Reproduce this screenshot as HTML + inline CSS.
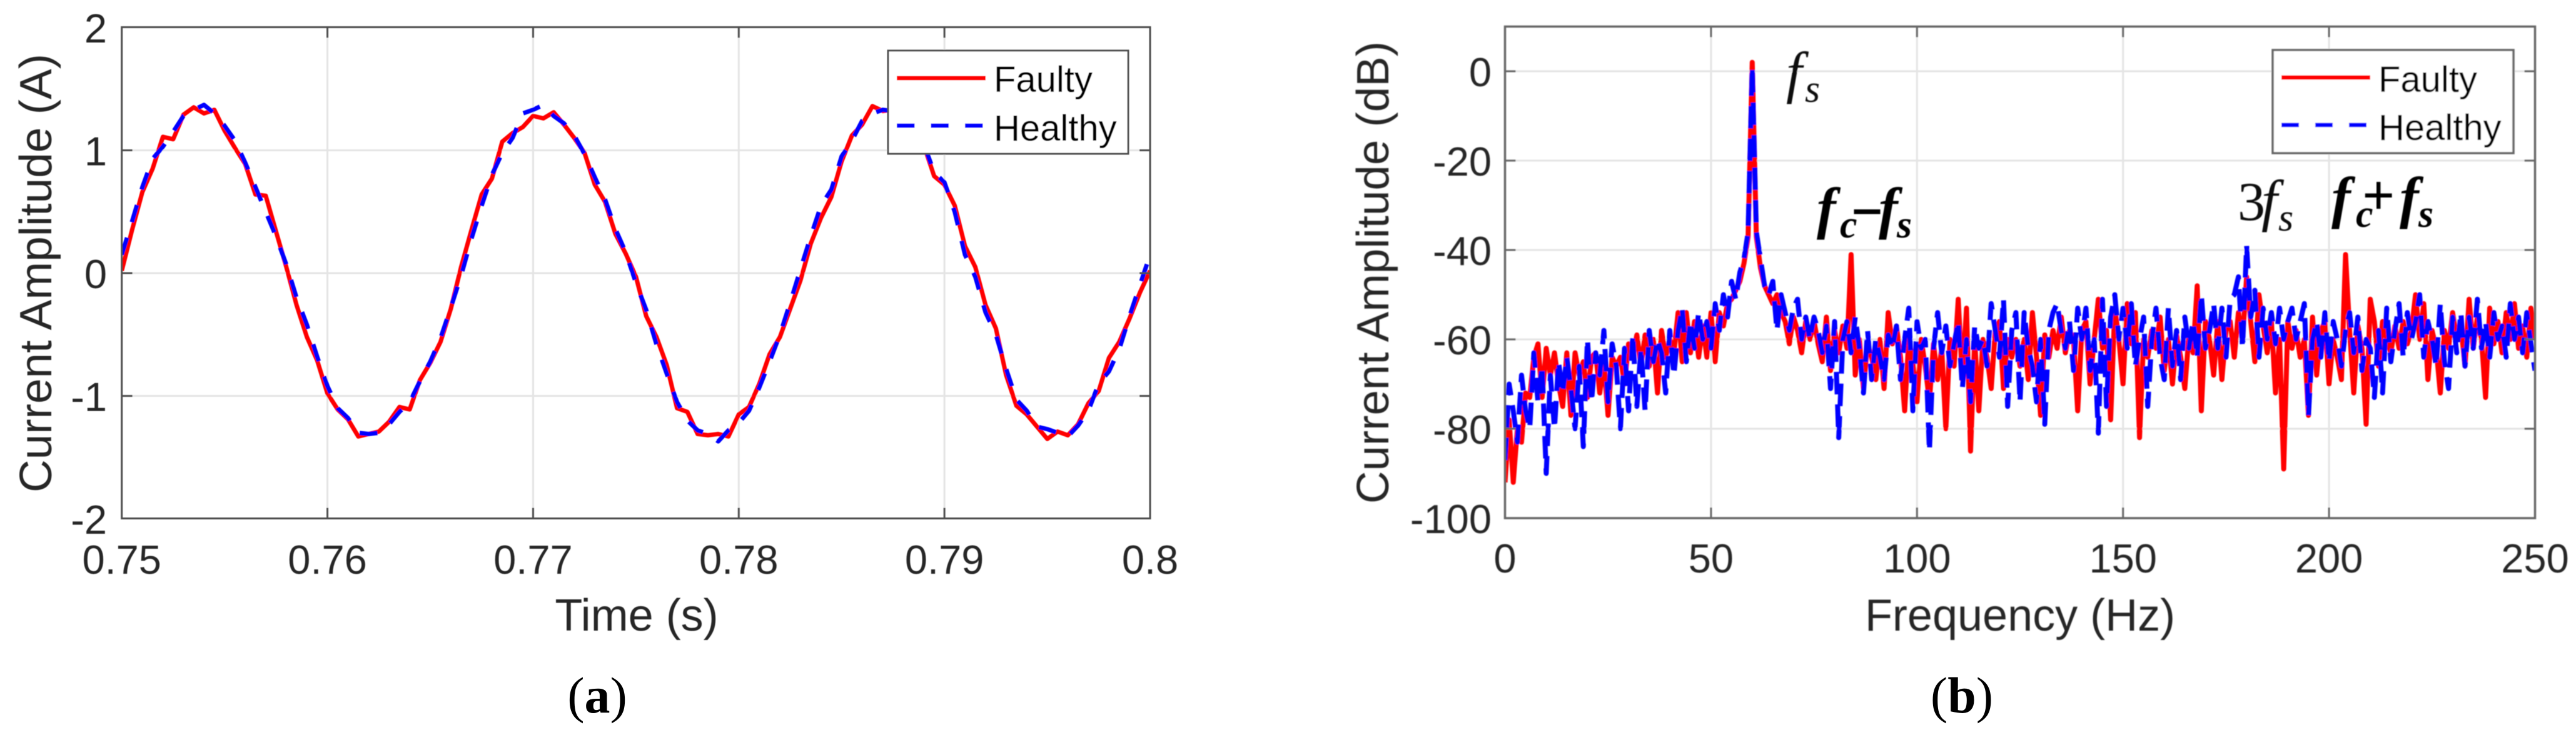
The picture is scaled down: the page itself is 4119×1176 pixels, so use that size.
<!DOCTYPE html>
<html lang="en">
<head>
<meta charset="utf-8">
<title>Current waveform and spectrum: faulty vs healthy</title>
<style>
html,body{margin:0;padding:0;background:#fff;width:4119px;height:1176px;overflow:hidden}
svg{display:block}
text{font-family:"Liberation Sans",Arial,sans-serif;fill:#262626}
.tick{font-size:65px}
.axis-title{font-size:72px}
.legend-text{font-size:58px;fill:#000}
.caption{font-family:"Liberation Serif","Times New Roman",serif;font-size:82px;fill:#000}
.note{font-family:"Liberation Serif","Times New Roman",serif;fill:#111}
.main{font-size:92px;font-style:italic}
.sub{font-size:62px;font-style:italic}
.bold{font-weight:bold;fill:#000}
</style>
</head>
<body>
<svg id="fig" xmlns="http://www.w3.org/2000/svg" width="4119" height="1176" viewBox="0 0 4119 1176">
  <defs>
    <clipPath id="clip-a"><rect x="194.7" y="43.5" width="1644.3" height="786"/></clipPath>
    <clipPath id="clip-b"><rect x="2406.5" y="42.5" width="1647" height="786.5"/></clipPath>
    <filter id="soft-a" x="-2%" y="-2%" width="104%" height="104%"><feGaussianBlur stdDeviation="0.5"/></filter>
    <filter id="soft-b" x="-2%" y="-2%" width="104%" height="104%"><feGaussianBlur stdDeviation="0.8"/></filter>
  </defs>
  <rect x="0" y="0" width="4119" height="1176" fill="#fff"/>

  <g id="panel-a" filter="url(#soft-a)">
    <g id="grid-a"></g>
    <g id="lines-a" clip-path="url(#clip-a)"></g>
    <g id="ticks-a"></g>
    <rect x="194.7" y="43.5" width="1644.3" height="786" fill="none" stroke="#4d4d4d" stroke-width="3"/>
    <text class="axis-title" transform="translate(82,437) rotate(-90)" text-anchor="middle" textLength="702" lengthAdjust="spacingAndGlyphs">Current Amplitude (A)</text>
    <text class="axis-title" x="1018" y="1009" text-anchor="middle">Time (s)</text>
    <g>
      <rect x="1420" y="81" width="384" height="165" fill="#fff" stroke="#4d4d4d" stroke-width="3"/>
      <line x1="1434" y1="125" x2="1576" y2="125" stroke="#ff0000" stroke-width="7"/>
      <line x1="1434" y1="201" x2="1572" y2="201" stroke="#0000ff" stroke-width="7" stroke-dasharray="28.5 26"/>
      <text class="legend-text" x="1589" y="147">Faulty</text>
      <text class="legend-text" x="1589" y="225">Healthy</text>
    </g>
  </g>
  <text class="caption" x="955" y="1140" text-anchor="middle">(<tspan font-weight="bold">a</tspan>)</text>

  <g id="panel-b" filter="url(#soft-b)">
    <g id="grid-b"></g>
    <g id="lines-b" clip-path="url(#clip-b)"></g>
    <g id="ticks-b"></g>
    <rect x="2406.5" y="42.5" width="1647" height="786.5" fill="none" stroke="#666" stroke-width="3.5"/>
    <text class="axis-title" transform="translate(2220,436) rotate(-90)" text-anchor="middle" textLength="740" lengthAdjust="spacingAndGlyphs">Current Amplitude (dB)</text>
    <text class="axis-title" x="3230" y="1009" text-anchor="middle">Frequency (Hz)</text>
    <g>
      <rect x="3634" y="80" width="385" height="165" fill="#fff" stroke="#666" stroke-width="3.5"/>
      <line x1="3648" y1="124" x2="3790" y2="124" stroke="#ff0000" stroke-width="7"/>
      <line x1="3648" y1="200" x2="3786" y2="200" stroke="#0000ff" stroke-width="7" stroke-dasharray="28 26"/>
      <text class="legend-text" x="3803" y="147">Faulty</text>
      <text class="legend-text" x="3803" y="224">Healthy</text>
    </g>
    <g>
      <text class="note main" x="2856" y="147">f</text>
      <text class="note sub" x="2886" y="163">s</text>
    </g>
    <g>
      <text class="note main bold" x="2905" y="364">f</text>
      <text class="note sub bold" x="2942" y="380">c</text>
      <text class="note bold" x="2966" y="357" font-size="78" stroke="#000" stroke-width="2">–</text>
      <text class="note main bold" x="3004" y="364">f</text>
      <text class="note sub bold" x="3033" y="380">s</text>
    </g>
    <g>
      <text class="note" x="3578" y="352" font-size="88">3</text>
      <text class="note main" x="3616" y="352">f</text>
      <text class="note sub" x="3643" y="369">s</text>
    </g>
    <g>
      <text class="note main bold" x="3728" y="347">f</text>
      <text class="note sub bold" x="3767" y="363">c</text>
      <text class="note bold" x="3777" y="343" font-size="92">+</text>
      <text class="note main bold" x="3837" y="347">f</text>
      <text class="note sub bold" x="3867" y="363">s</text>
    </g>
  </g>
  <text class="caption" x="3137" y="1140" text-anchor="middle">(<tspan font-weight="bold">b</tspan>)</text>
</svg>
<script>
const timeStart = 0.75;
const timeStep = 0.0005;
const faultyCurrent = [0.02,0.35,0.66,0.85,1.11,1.09,1.29,1.35,1.30,1.33,1.16,1.02,0.89,0.64,0.63,0.34,0.05,-0.26,-0.52,-0.71,-0.98,-1.11,-1.19,-1.33,-1.31,-1.29,-1.21,-1.09,-1.11,-0.87,-0.73,-0.56,-0.29,0.05,0.35,0.64,0.77,1.07,1.14,1.19,1.28,1.26,1.31,1.21,1.10,0.98,0.72,0.58,0.32,0.16,-0.03,-0.35,-0.52,-0.75,-1.10,-1.13,-1.31,-1.32,-1.31,-1.33,-1.15,-1.09,-0.90,-0.66,-0.52,-0.29,-0.06,0.24,0.45,0.62,0.91,1.12,1.21,1.36,1.32,1.33,1.29,1.19,1.04,0.79,0.72,0.55,0.22,0.05,-0.26,-0.45,-0.83,-1.08,-1.15,-1.25,-1.35,-1.29,-1.32,-1.23,-1.06,-0.96,-0.69,-0.56,-0.37,-0.16,0.02];
const healthyCurrent = [0.15,0.42,0.70,0.93,1.03,1.15,1.28,1.33,1.37,1.30,1.20,1.08,0.90,0.70,0.50,0.30,0.07,-0.20,-0.42,-0.68,-0.92,-1.10,-1.18,-1.30,-1.31,-1.30,-1.23,-1.13,-1.05,-0.88,-0.72,-0.53,-0.28,-0.02,0.28,0.55,0.80,0.98,1.10,1.30,1.33,1.37,1.28,1.22,1.12,0.97,0.78,0.60,0.36,0.17,-0.08,-0.30,-0.58,-0.82,-1.05,-1.20,-1.28,-1.31,-1.37,-1.28,-1.22,-1.12,-0.93,-0.72,-0.50,-0.24,0.03,0.30,0.55,0.68,0.95,1.08,1.24,1.30,1.33,1.32,1.30,1.20,1.05,0.82,0.74,0.50,0.15,-0.03,-0.32,-0.50,-0.78,-1.03,-1.12,-1.25,-1.27,-1.30,-1.33,-1.24,-1.12,-0.90,-0.80,-0.62,-0.35,-0.10,0.15];
const timeTicks = [0.75,0.76,0.77,0.78,0.79,0.80];
const timeTickLabels = ['0.75','0.76','0.77','0.78','0.79','0.8'];
const currentTicks = [-2,-1,0,1,2];
const currentTickLabels = ['-2','-1','0','1','2'];

const freqStart = 0;
const freqStep = 1;
const faultyDb = [-92,-78,-92,-80,-83,-72,-73,-64,-61,-73,-62,-68,-63,-70,-75,-63,-77,-63,-68,-65,-73,-64,-63,-72,-65,-77,-64,-66,-64,-70,-61,-64,-59,-66,-59,-66,-60,-72,-58,-64,-60,-63,-54,-65,-54,-63,-56,-64,-57,-64,-54,-65,-54,-57,-52,-51,-49,-47,-43,-37,2,-37,-44,-48,-50,-52,-50,-54,-56,-61,-55,-58,-63,-56,-60,-56,-61,-65,
-55,-67,-58,-63,-57,-62,-41,-68,-60,-71,-61,-64,-69,-60,-71,-54,-61,-57,-64,-76,-60,-65,-74,
-60,-66,-74,-61,-69,-62,-80,-60,-66,-51,-69,-53,-85,-60,-76,-60,-64,-71,-58,-56,-71,-60,-64,-60,-66,-60,-69,-54,-64,-77,-59,-64,-58,-62,-55,-63,-58,-60,-76,-58,-56,-70,-60,-51,-62,-58,-78,-53,-60,-70,
-52,-61,-54,-82,-60,-64,-58,-62,-55,-67,-60,-70,-59,-64,-71,-59,-63,-48,-76,-56,-60,-68,-56,-69,-58,-56,-64,-54,-60,-46,-56,-65,-50,-57,-63,-56,-72,-60,-89,-56,-62,-58,-64,-60,-77,-55,-68,-58,-56,-70,
-60,-64,-69,-41,-58,-72,-57,-62,-79,-51,-56,-66,-56,-60,-63,-57,-62,-56,-61,-58,-50,-60,-52,-69,-58,-62,-72,-58,-62,-54,-60,-57,-66,-51,-62,-55,-60,-73,-53,-61,-56,-63,-54,-60,-52,-62,-57,-64,-53,-60];
const healthyDb = [-87,-70,-76,-83,-68,-76,-80,-63,-74,-66,-90,-68,-80,-65,-72,-64,-71,-80,-66,-84,-60,-74,-63,-68,-58,-74,-61,-66,-80,-62,-76,-59,-75,-62,-76,-58,-65,-60,-63,-72,-58,-68,-58,-53,-65,-56,-62,-54,-60,-56,-62,-52,-58,-50,-55,-47,-51,-45,-42,-36,1,-36,-42,-48,-50,-47,-58,-50,-54,-58,-53,-51,-60,-55,-60,-55,-58,-63,
-57,-71,-56,-82,-60,-56,-63,-55,-62,-72,-58,-69,-60,-64,-69,-59,-62,-57,-69,-60,-53,-76,-56,
-62,-60,-85,-62,-54,-63,-57,-66,-61,-56,-71,-60,-74,-57,-62,-60,-66,-52,-58,-64,-51,-75,-58,-54,-74,-54,-62,-66,-74,-60,-79,-58,-54,-52,-58,-62,-56,-67,-53,-60,-53,-67,-60,-81,-51,-75,-55,-50,-60,-53,
-62,-52,-66,-60,-55,-75,-60,-53,-64,-69,-53,-66,-58,-69,-55,-62,-56,-64,-50,-62,-58,-52,-62,-53,-64,-51,-50,-46,-62,-39,-55,-49,-64,-53,-60,-54,-61,-53,-60,-56,-53,-60,-56,-52,-77,-60,-56,-64,-54,-65,
-56,-60,-66,-58,-54,-63,-55,-67,-60,-62,-73,-58,-72,-53,-65,-58,-52,-64,-54,-60,-56,-50,-64,-56,-60,-66,-52,-65,-71,-55,-63,-54,-66,-55,-62,-51,-62,-56,-64,-54,-60,-57,-64,-52,-60,-55,-63,-54,-61,-67];
const freqTicks = [0,50,100,150,200,250];
const freqTickLabels = ['0','50','100','150','200','250'];
const dbTicks = [-100,-80,-60,-40,-20,0];
const dbTickLabels = ['-100','-80','-60','-40','-20','0'];

const SVG_NS = 'http://www.w3.org/2000/svg';
function xTime(t){ return 194.7 + (t - 0.75) / 0.05 * 1644.3; }
function yCurrent(v){ return 437 - 196.5 * v; }
function xFreq(f){ return 2406.5 + f * 6.588; }
function yDb(d){ return 114 - 7.15 * d; }

function make(tag, parent, props){
  const el = document.createElementNS(SVG_NS, tag);
  for (const k in props) el.setAttribute(k, props[k]);
  parent.appendChild(el);
  return el;
}

function drawSeries(parent, values, xOf, yOf, stroke, width, dash, name){
  const pts = values.map(function(v, i){ return xOf(i).toFixed(1) + ',' + yOf(v).toFixed(1); }).join(' ');
  const props = {points: pts, fill: 'none', stroke: stroke, 'stroke-width': width, 'stroke-linejoin': 'round'};
  if (dash) props['stroke-dasharray'] = dash;
  const el = make('polyline', parent, props);
  
  
}

function drawAxes(cfg){
  cfg.xTicks.forEach(function(t, i){
    const x = cfg.xOf(t);
    if (i > 0 && i < cfg.xTicks.length - 1) {
      const g = make('line', cfg.grid, {x1: x, x2: x, y1: cfg.top, y2: cfg.bottom, stroke: '#e4e4e4', 'stroke-width': 3});
      
      
      const a = make('line', cfg.ticks, {x1: x, x2: x, y1: cfg.bottom, y2: cfg.bottom - 17, stroke: cfg.tickColor, 'stroke-width': 3});
      
      
      const b = make('line', cfg.ticks, {x1: x, x2: x, y1: cfg.top, y2: cfg.top + 17, stroke: cfg.tickColor, 'stroke-width': 3});
      
      
    }
    const lab = make('text', cfg.ticks, {x: x, y: cfg.xLabelY, 'text-anchor': 'middle', 'class': 'tick'});
    lab.textContent = cfg.xLabels[i];
    
    
  });
  cfg.yTicks.forEach(function(v, i){
    const y = cfg.yOf(v);
    if (y > cfg.top + 1 && y < cfg.bottom - 1) {
      const g = make('line', cfg.grid, {x1: cfg.left, x2: cfg.right, y1: y, y2: y, stroke: '#e4e4e4', 'stroke-width': 3});
      
      
      const a = make('line', cfg.ticks, {x1: cfg.left, x2: cfg.left + 17, y1: y, y2: y, stroke: cfg.tickColor, 'stroke-width': 3});
      
      
      const b = make('line', cfg.ticks, {x1: cfg.right, x2: cfg.right - 17, y1: y, y2: y, stroke: cfg.tickColor, 'stroke-width': 3});
      
      
    }
    const lab = make('text', cfg.ticks, {x: cfg.yLabelX, y: y + 24, 'text-anchor': 'end', 'class': 'tick'});
    lab.textContent = cfg.yLabels[i];
    
    
  });
}

drawAxes({grid: document.getElementById('grid-a'), ticks: document.getElementById('ticks-a'),
  xTicks: timeTicks, xLabels: timeTickLabels, yTicks: currentTicks, yLabels: currentTickLabels,
  xOf: xTime, yOf: yCurrent, left: 194.7, right: 1839, top: 43.5, bottom: 829.5,
  xLabelY: 918, yLabelX: 171, tickColor: '#4d4d4d'});
drawAxes({grid: document.getElementById('grid-b'), ticks: document.getElementById('ticks-b'),
  xTicks: freqTicks, xLabels: freqTickLabels, yTicks: dbTicks, yLabels: dbTickLabels,
  xOf: xFreq, yOf: yDb, left: 2406.5, right: 4053.5, top: 42.5, bottom: 829,
  xLabelY: 916, yLabelX: 2385, tickColor: '#666'});

const linesA = document.getElementById('lines-a');
const linesB = document.getElementById('lines-b');
const xByTimeIndex = function(i){ return xTime(timeStart + i * timeStep); };
const xByFreqIndex = function(i){ return xFreq(freqStart + i * freqStep); };
drawSeries(linesA, faultyCurrent, xByTimeIndex, yCurrent, '#ff0000', 7, null, 'faulty-current-line');
drawSeries(linesA, healthyCurrent, xByTimeIndex, yCurrent, '#0000ff', 7, '28.5 26', 'healthy-current-line');
drawSeries(linesB, faultyDb, xByFreqIndex, yDb, '#ff0000', 8, null, 'faulty-spectrum-line');
drawSeries(linesB, healthyDb, xByFreqIndex, yDb, '#0000ff', 8, '36 16', 'healthy-spectrum-line');
</script>
</body>
</html>
